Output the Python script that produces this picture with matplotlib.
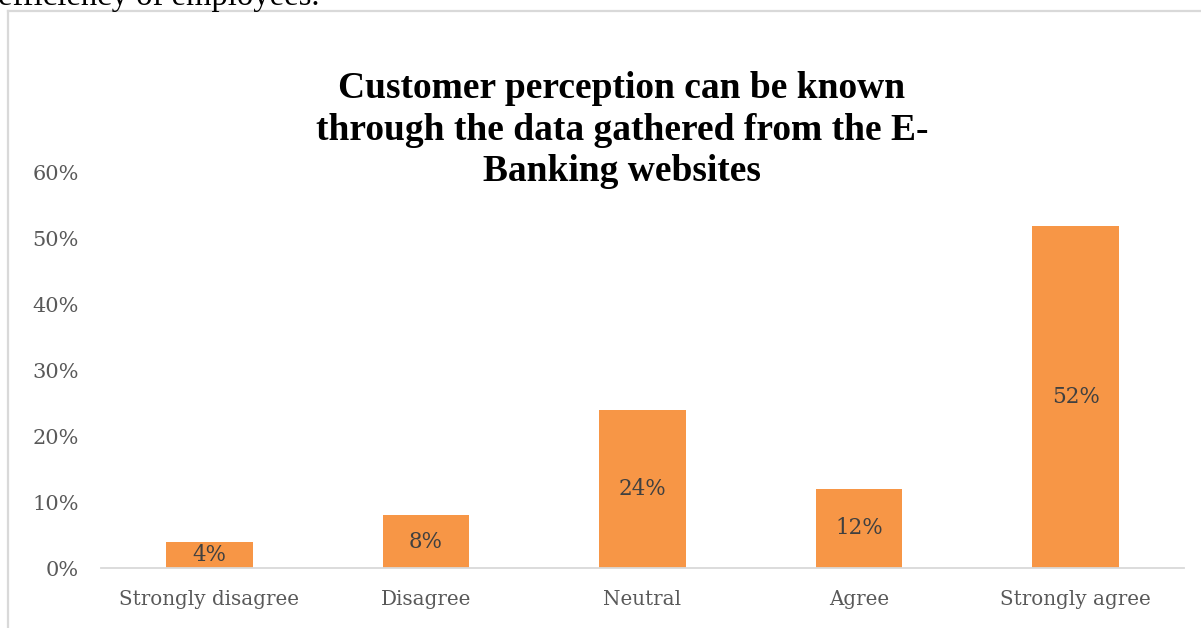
import matplotlib
matplotlib.use("Agg")
import matplotlib.pyplot as plt
from matplotlib.lines import Line2D
from matplotlib.ticker import PercentFormatter

categories = ["Strongly disagree", "Disagree", "Neutral", "Agree", "Strongly agree"]
shares = [4, 8, 24, 12, 52]
y_ticks = [0, 10, 20, 30, 40, 50, 60]
title = "Customer perception can be known\nthrough the data gathered from the E-\nBanking websites"

W, H = 1201, 628
fig = plt.figure(figsize=(W / 100, H / 100), dpi=100)

# leftover line of body text above the chart box
fig.text(-0.002, 1 - 5 / H, "efficiency of employees.", family="Liberation Serif",
         fontsize=23.5, color="black", va="baseline", ha="left")

# chart box border (runs off the right and bottom edges)
box_kw = dict(color="#d9d9d9", lw=1.6, transform=fig.transFigure)
fig.add_artist(Line2D([8 / W, 8 / W], [1 - 11 / H, -0.1], **box_kw))
fig.add_artist(Line2D([8 / W, 1.1], [1 - 11 / H, 1 - 11 / H], **box_kw))

ax = fig.add_axes([101 / W, (H - 568) / H, (1184 - 101) / W, (568 - 173) / H])
bars = ax.bar(range(len(categories)), shares, width=0.4, color="#f79646")
ax.bar_label(bars, labels=[f"{v}%" for v in shares], label_type="center",
             family="DejaVu Serif", fontsize=15.5, color="#404040")

ax.set_xlim(-0.5, len(categories) - 0.5)
ax.set_ylim(0, 60)
ax.set_yticks(y_ticks)
ax.yaxis.set_major_formatter(PercentFormatter(decimals=0))
ax.set_xticks(range(len(categories)))
ax.set_xticklabels(categories)
for lab in ax.get_yticklabels():
    lab.set_family("DejaVu Serif")
    lab.set_fontsize(15)
    lab.set_color("#595959")
for lab in ax.get_xticklabels():
    lab.set_family("DejaVu Serif")
    lab.set_fontsize(14.3)
    lab.set_color("#595959")
ax.tick_params(axis="both", length=0)
ax.tick_params(axis="y", pad=16)
ax.tick_params(axis="x", pad=16)
for side in ["top", "right", "left"]:
    ax.spines[side].set_visible(False)
ax.spines["bottom"].set_color("#d9d9d9")
ax.spines["bottom"].set_linewidth(1.3)

fig.text(622 / W, 1 - 130 / H, title, family="Liberation Serif", fontweight="bold",
         fontsize=27, ha="center", va="center", linespacing=1.25, color="black")

fig.savefig("out.png", dpi=100)
